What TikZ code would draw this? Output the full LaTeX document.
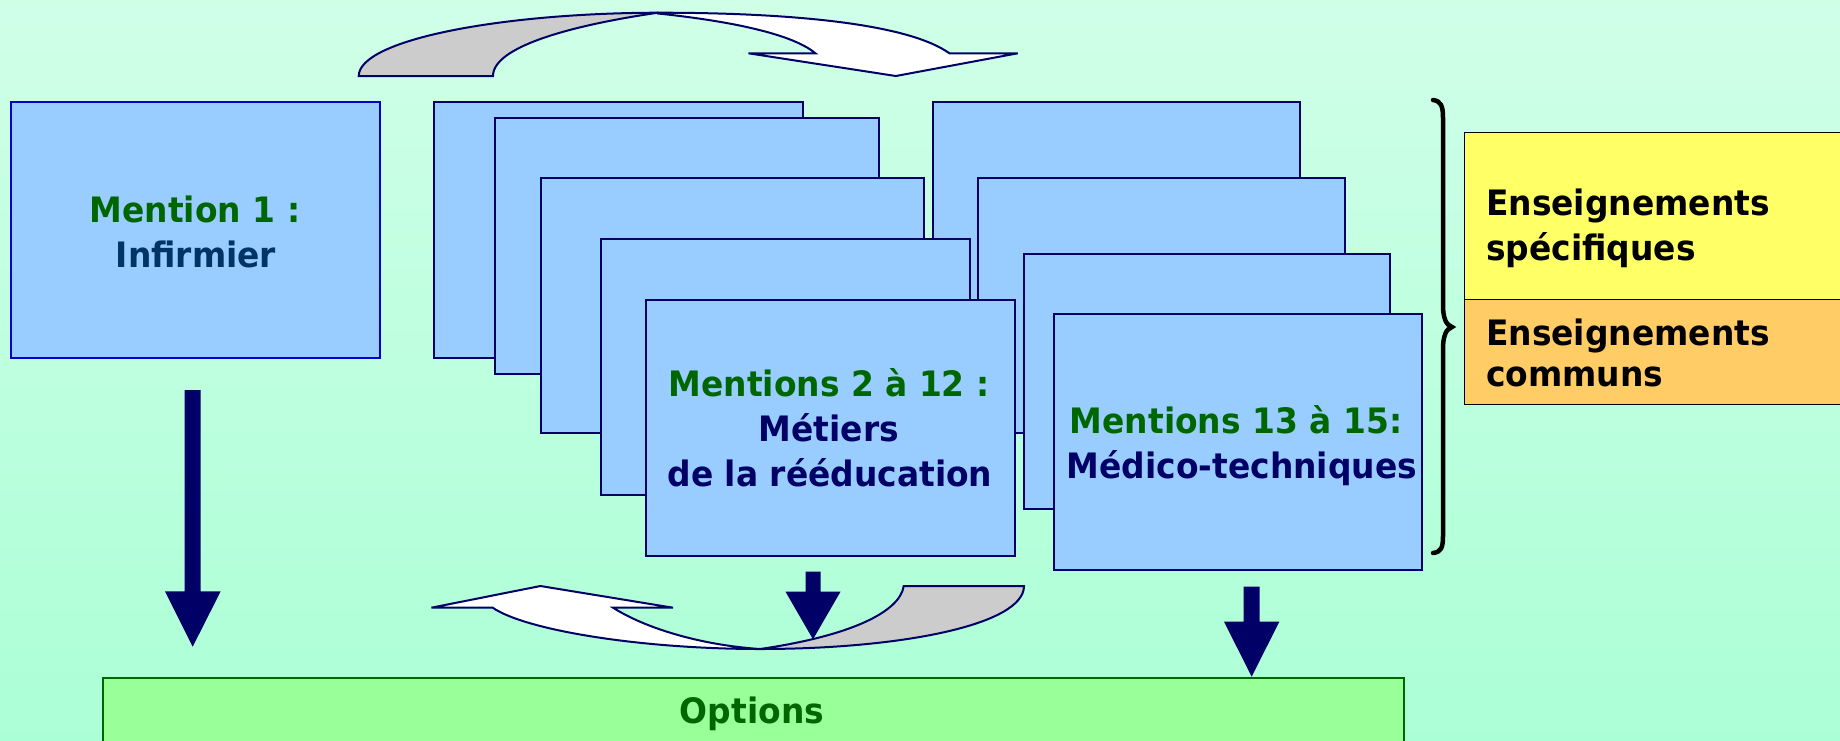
\documentclass[tikz,border=0pt]{standalone}
\usepackage{fontspec}
\setmainfont{DejaVu Sans}[FakeStretch=0.94]
\definecolor{bgtop}{HTML}{D0FFE8}
\definecolor{bgbot}{HTML}{ABFFD6}
\definecolor{boxfill}{HTML}{99CCFF}
\definecolor{navy}{HTML}{000066}
\definecolor{brightblue}{HTML}{0000CC}
\definecolor{tgreen}{HTML}{006600}
\definecolor{tinf}{HTML}{003366}
\definecolor{optfill}{HTML}{99FF99}
\definecolor{optline}{HTML}{006600}
\definecolor{yel}{HTML}{FFFF66}
\definecolor{ora}{HTML}{FFCC66}
\definecolor{grayarr}{HTML}{CCCCCC}
\tikzset{
  mbox/.style={draw=navy, fill=boxfill, line width=2pt, inner sep=0pt, minimum height=256pt},
  txt/.style={font=\bfseries\fontsize{35}{45}\selectfont, inner sep=0pt, anchor=base},
  txtl/.style={font=\bfseries\fontsize{35}{45}\selectfont, inner sep=0pt, anchor=base west, text=black},
  downarrow/.style={fill=navy},
  curvearr/.style={draw=navy, line width=2pt, line join=miter}
}
\begin{document}
\begin{tikzpicture}[x=1pt,y=-1pt]
\useasboundingbox (0,0) rectangle (1840,740);
\shade[top color=bgtop, bottom color=bgbot] (0,0) rectangle (1840,740);

% top curved arrow
\filldraw[curvearr, fill=grayarr] (358.75,76) .. controls (358.75,40) and (500,13) .. (658,12.7)
  .. controls (580,24) and (493,45) .. (493,76) -- cycle;
\filldraw[curvearr, fill=white] (658,12.7) .. controls (800,12.7) and (910,25) .. (949.4,53.3)
  -- (1017.7,53.3) -- (895.8,76) -- (748.5,53.3) -- (815.4,53.3)
  .. controls (790,32) and (720,20) .. (658,13.5) -- cycle;

% Mention 1
\node[mbox, draw=brightblue, minimum width=369pt] (m1) at (195.2,230.3) {};
\node[txt, text=tgreen] (m1a) at (195,222.7) {Mention 1 :};
\node[txt, text=tinf] (m1b) at (196,267.7) {Infirmier};

% right stack (back)
\node[mbox, minimum width=367pt] (f) at (1116.9,230.3) {};
\node[mbox, minimum width=367pt, minimum height=255pt] (g) at (1161.8,305.7) {};

% left stack
\node[mbox, minimum width=369pt] (a) at (618.3,230.3) {};
\node[mbox, minimum width=383.6pt] (b) at (686.9,246) {};
\node[mbox, minimum width=383.6pt, minimum height=255pt] (c) at (732.4,305.7) {};
\node[mbox, minimum width=369pt] (d) at (785.2,367) {};
\node[mbox, minimum width=369pt] (e) at (830.7,427.5) {};
\node[txt, text=tgreen] (ea) at (829,396) {Mentions 2 à 12 :};
\node[txt, text=navy] (eb) at (829,441) {Métiers};
\node[txt, text=navy] (ec) at (830,486) {de la rééducation};

% right stack (front)
\node[mbox, minimum width=366.5pt, minimum height=255pt] (h) at (1207,381.7) {};
\node[mbox, minimum width=368pt] (i) at (1238,442) {};
\node[txt, text=tgreen] (ia) at (1236,433.3) {Mentions 13 à 15:};
\node[txt, text=navy] (ib) at (1242,478) {Médico-techniques};

% brace
\draw[line width=4.5pt, black, line cap=round] (1433,100) .. controls (1441,101) and (1443,106) .. (1443,118)
  -- (1443,305) .. controls (1443,318) and (1446,325) .. (1452,327)
  .. controls (1446,329) and (1443,336) .. (1443,349)
  -- (1443,536) .. controls (1443,548) and (1441,552) .. (1433,553);

% right panel
\draw[fill=yel, draw=black, line width=1.5pt] (1464.3,132.7) rectangle (1850,299.3);
\draw[fill=ora, draw=black, line width=1.5pt] (1464.3,299.3) rectangle (1850,404.3);
\node[txtl] (ys1) at (1486,215) {Enseignements};
\node[txtl] (ys2) at (1486,260) {spécifiques};
\node[txtl] (oc1) at (1486,345) {Enseignements};
\node[txtl] (oc2) at (1486,386.7) {communs};

% bottom curved arrow
\filldraw[curvearr, fill=white] (492.7,607.7) -- (431.4,607.7) -- (540.4,586) -- (673,607.7) -- (613.1,607.7)
  .. controls (645,628) and (700,645) .. (760,649)
  .. controls (640,649) and (525,630) .. (492.7,607.7) -- cycle;
\filldraw[curvearr, fill=grayarr] (760,649) .. controls (900,649) and (1024,625) .. (1024,586)
  -- (903.7,586) .. controls (900,612) and (850,636) .. (760,649) -- cycle;

% options box
\node[draw=optline, fill=optfill, line width=2pt, inner sep=0pt, minimum width=1301.3pt, minimum height=70pt, anchor=north west] (opt) at (101.7,676.7) {};
\node[txt, text=tgreen] (optt) at (752,723.3) {Options};

% down arrows
\fill[downarrow] (184.7,390) -- (200.7,390) -- (200.7,591.3) -- (220.7,591.3) -- (192.7,646.7) -- (165,591.3) -- (184.7,591.3) -- cycle;
\fill[downarrow] (805.5,571.7) -- (820.5,571.7) -- (820.5,591.7) -- (840.5,591.7) -- (813,639.3) -- (785.5,591.7) -- (805.5,591.7) -- cycle;
\fill[downarrow] (1243.7,586.7) -- (1259.7,586.7) -- (1259.7,621.7) -- (1279.3,621.7) -- (1251.7,676.7) -- (1224,621.7) -- (1243.7,621.7) -- cycle;
\end{tikzpicture}
\end{document}
